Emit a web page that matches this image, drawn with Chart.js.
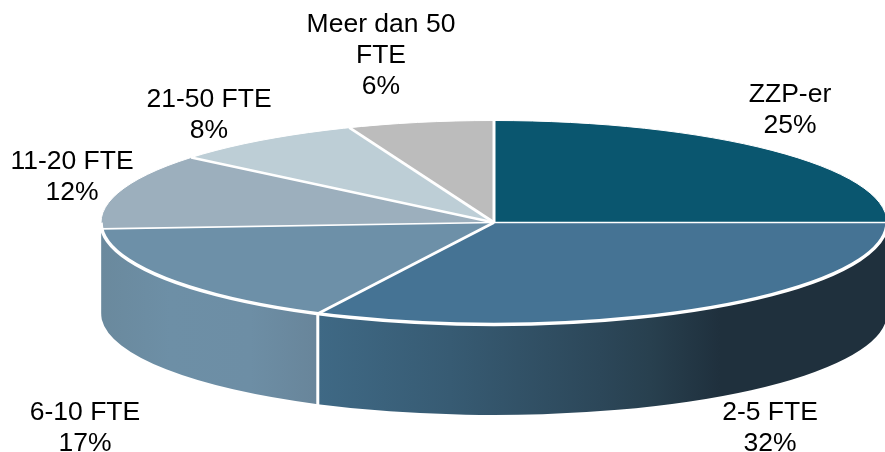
<!DOCTYPE html>
<html>
<head>
<meta charset="utf-8">
<style>
html, body { margin: 0; padding: 0; background: #fff; overflow: hidden; }
canvas { display: block; }
</style>
<script src="https://cdn.jsdelivr.net/npm/chart.js@4"></script>
</head>
<body>
<canvas id="mycanvas" width="885" height="452"></canvas>
<script>
var categories = ["ZZP-er", "2-5 FTE", "6-10 FTE", "11-20 FTE", "21-50 FTE", ["Meer dan 50", "FTE"]];
var shares = [25, 32.4, 16.6, 12, 8, 6];
var topColors = ["#0a566f", "#457394", "#6d90a8", "#9cafbd", "#bdced6", "#bcbcbc"];

// label centre x and first baseline y, per category
var labelX = [790, 770, 85, 72, 209, 381];
var labelY = [102, 420, 420, 169, 107, 32];

// the flattened disc
var cx = 494, cy = 222.5, rx = 393, ry = 102, depth = 90.5;

// side wall gradient stops per slice: [x, colour]
var wallStops = [
	null,
	[[318, "#3f6985"], [450, "#375b73"], [600, "#2c4759"], [650, "#28404f"], [720, "#1f303d"], [885, "#1f303d"]],
	[[101, "#6a899d"], [170, "#6d8fa6"], [250, "#6d8ea5"], [318, "#68859a"]],
	[[100, "#6a899d"], [104, "#6a899d"]],
	null,
	null
];

function wallGradient(ctx, stops) {
	var x0 = stops[0][0], x1 = stops[stops.length - 1][0];
	var g = ctx.createLinearGradient(x0, 0, x1, 0);
	stops.forEach(function(s) {
		g.addColorStop((s[0] - x0) / (x1 - x0), s[1]);
	});
	return g;
}

var disc3d = {
	id: "disc3d",
	beforeDatasetsDraw: function(chart) {
		var ctx = chart.ctx;
		var arcs = chart.getDatasetMeta(0).data;

		// side wall, only the part facing the viewer
		arcs.forEach(function(arc, i) {
			if (!wallStops[i]) return;
			var a0 = Math.max(arc.startAngle, 0);
			var a1 = Math.min(arc.endAngle, Math.PI);
			if (a1 <= a0) return;
			ctx.beginPath();
			ctx.ellipse(cx, cy, rx, ry, 0, a0, a1);
			ctx.ellipse(cx, cy + depth, rx, ry, 0, a1, a0, true);
			ctx.closePath();
			ctx.fillStyle = wallGradient(ctx, wallStops[i]);
			ctx.fill();
		});

		// squash the library's round pie into the disc top
		var first = arcs[0];
		var k = first.outerRadius;
		ctx.save();
		ctx.translate(cx, cy);
		ctx.scale(rx / k, ry / k);
		ctx.translate(-first.x, -first.y);
	},
	afterDatasetsDraw: function(chart) {
		var ctx = chart.ctx;
		var arcs = chart.getDatasetMeta(0).data;
		ctx.restore();

		ctx.strokeStyle = "#fff";
		ctx.lineCap = "butt";

		// thin light rim along the back
		ctx.lineWidth = 1;
		ctx.beginPath();
		ctx.ellipse(cx, cy, rx, ry, 0, Math.PI, 2 * Math.PI);
		ctx.stroke();

		// thicker rim along the front
		ctx.lineWidth = 3.5;
		ctx.beginPath();
		ctx.ellipse(cx, cy, rx, ry, 0, 0, Math.PI);
		ctx.stroke();

		arcs.forEach(function(arc) {
			var a = arc.startAngle;
			var px = cx + rx * Math.cos(a), py = cy + ry * Math.sin(a);

			// radial edge on the top, thinner when it runs flat
			ctx.lineWidth = 1.5 + 1.5 * Math.abs(Math.sin(a));
			ctx.beginPath();
			ctx.moveTo(cx, cy);
			ctx.lineTo(px, py);
			ctx.stroke();

			// seam on the wall
			var n = (a + 2 * Math.PI) % (2 * Math.PI);
			if (n > 0.05 && n < Math.PI - 0.1) {
				ctx.lineWidth = 3;
				ctx.beginPath();
				ctx.moveTo(px, py);
				ctx.lineTo(px, py + depth + 2);
				ctx.stroke();
			}
		});

		// labels
		var total = shares.reduce(function(s, v) { return s + v; }, 0);
		ctx.font = "26.5px 'Liberation Sans', Arial, sans-serif";
		ctx.fillStyle = "#000";
		ctx.textAlign = "center";
		ctx.textBaseline = "alphabetic";
		categories.forEach(function(cat, i) {
			var lines = [].concat(cat);
			lines.push(Math.round(shares[i] / total * 100) + "%");
			lines.forEach(function(line, j) {
				ctx.fillText(line, labelX[i], labelY[i] + j * 31);
			});
		});
	}
};

var ctx = document.getElementById("mycanvas").getContext("2d");
var pieChart = new Chart(ctx, {
	type: "pie",
	data: {
		labels: categories,
		datasets: [{
			data: shares,
			backgroundColor: topColors,
			borderWidth: 0,
			clip: false
		}]
	},
	options: {
		responsive: false,
		animation: false,
		layout: { padding: 0 },
		plugins: {
			legend: { display: false },
			tooltip: { enabled: false }
		}
	},
	plugins: [disc3d]
});
</script>
</body>
</html>
